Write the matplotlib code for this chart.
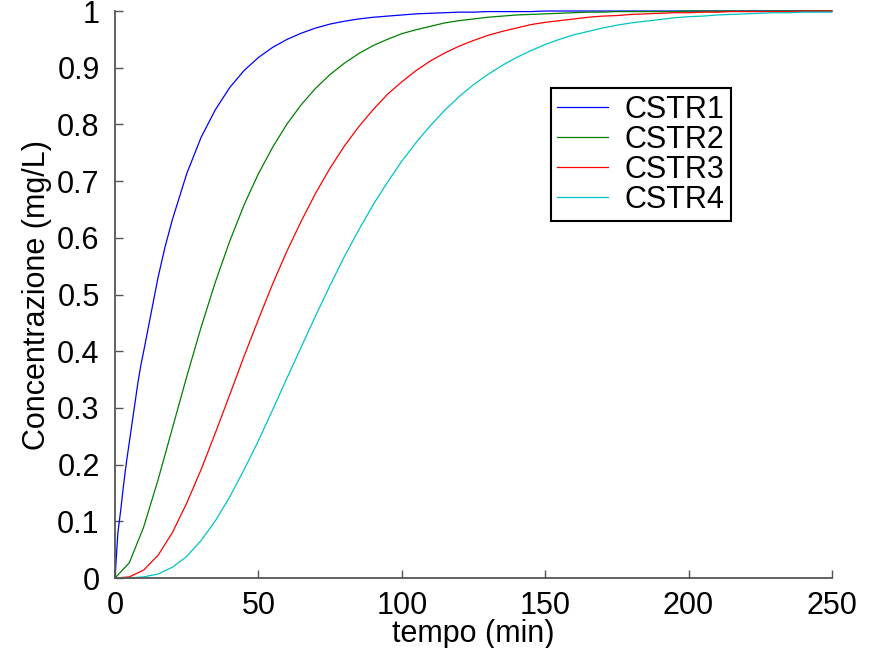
import matplotlib
matplotlib.use("Agg")
import matplotlib.pyplot as plt

# =========================
# Dati
# =========================
# CSTR1 ha qualche punto in piu' all'inizio (salita ripida)
tempo1 = [0, 0.5, 1, 2, 3, 4, 5, 6, 7, 8, 9, 10, 12.5, 15, 17.5] + list(range(20, 251, 5))
cstr1 = [0.0, 0.04, 0.08, 0.12, 0.165, 0.205, 0.24, 0.275, 0.31, 0.345, 0.375, 0.40, 0.465, 0.53, 0.585,
         0.632, 0.713, 0.777, 0.826, 0.865, 0.895, 0.918, 0.936, 0.950, 0.961,
         0.970, 0.977, 0.982, 0.986, 0.989, 0.991, 0.993, 0.995, 0.996, 0.997,
         0.998, 0.998, 0.999, 0.999, 0.999, 0.999, 1.0, 1.0, 1.0, 1.0,
         1.0, 1.0, 1.0, 1.0, 1.0, 1.0, 1.0, 1.0, 1.0, 1.0,
         1.0, 1.0, 1.0, 1.0, 1.0, 1.0, 1.0]

tempo = list(range(0, 251, 5))
cstr2 = [0.0, 0.027, 0.090, 0.173, 0.264, 0.355, 0.442, 0.522, 0.594, 0.658,
         0.713, 0.760, 0.801, 0.835, 0.864, 0.888, 0.908, 0.925, 0.939, 0.950,
         0.960, 0.967, 0.973, 0.979, 0.983, 0.986, 0.989, 0.991, 0.993, 0.994,
         0.995, 0.996, 0.997, 0.998, 0.998, 0.999, 0.999, 0.999, 0.999, 0.999,
         1.0, 1.0, 1.0, 1.0, 1.0, 1.0, 1.0, 1.0, 1.0, 1.0, 1.0]
cstr3 = [0.0, 0.002, 0.014, 0.040, 0.080, 0.132, 0.191, 0.256, 0.323, 0.391,
         0.456, 0.519, 0.577, 0.630, 0.679, 0.723, 0.762, 0.796, 0.826, 0.853,
         0.875, 0.895, 0.912, 0.926, 0.938, 0.948, 0.957, 0.964, 0.970, 0.976,
         0.980, 0.983, 0.986, 0.989, 0.991, 0.992, 0.994, 0.995, 0.996, 0.997,
         0.997, 0.998, 0.998, 0.999, 0.999, 0.999, 0.999, 0.999, 1.0, 1.0, 1.0]
cstr4 = [0.0, 0.0, 0.002, 0.007, 0.019, 0.038, 0.066, 0.101, 0.143, 0.191,
         0.242, 0.297, 0.353, 0.408, 0.463, 0.516, 0.567, 0.614, 0.658, 0.698,
         0.735, 0.768, 0.798, 0.825, 0.849, 0.870, 0.888, 0.904, 0.918, 0.930,
         0.941, 0.950, 0.958, 0.964, 0.970, 0.975, 0.979, 0.982, 0.985, 0.988,
         0.990, 0.991, 0.993, 0.994, 0.995, 0.996, 0.997, 0.997, 0.998, 0.998, 0.998]

x_ticks = [0, 50, 100, 150, 200, 250]
y_ticks = [0, 0.1, 0.2, 0.3, 0.4, 0.5, 0.6, 0.7, 0.8, 0.9, 1]
y_ticklabels = ["0", "0.1", "0.2", "0.3", "0.4", "0.5", "0.6", "0.7", "0.8", "0.9", "1"]

# =========================
# Grafico
# =========================
plt.rcParams["font.family"] = ["Liberation Sans", "DejaVu Sans"]
fs = 22

fig = plt.figure(figsize=(8.74, 6.48), dpi=100)
ax = fig.add_axes([0.1316, 0.108, 0.8202, 0.875])

lw = 0.9
ax.plot(tempo1, cstr1, color="#0000ff", lw=lw, label="CSTR1", clip_on=False)
ax.plot(tempo, cstr2, color="#008000", lw=lw, label="CSTR2", clip_on=False)
ax.plot(tempo, cstr3, color="#ff0000", lw=lw, label="CSTR3", clip_on=False)
ax.plot(tempo, cstr4, color="#00c4c4", lw=lw, label="CSTR4", clip_on=False)

ax.set_xlim(0, 250)
ax.set_ylim(0, 1)
ax.set_xticks(x_ticks)
ax.set_yticks(y_ticks)
ax.set_yticklabels(y_ticklabels)

for s in ["top", "right"]:
    ax.spines[s].set_visible(False)
for s in ["left", "bottom"]:
    ax.spines[s].set_color("#555555")
    ax.spines[s].set_linewidth(1.3)

ax.tick_params(axis="both", direction="in", length=6, width=1.0, color="#555555",
               labelsize=fs, labelcolor="black")
ax.tick_params(axis="x", pad=9)
ax.tick_params(axis="y", pad=11)

ax.set_xlabel("tempo (min)", fontsize=fs, labelpad=-1)
ax.set_ylabel("Concentrazione (mg/L)", fontsize=fs, labelpad=4)

leg = ax.legend(loc="upper left", bbox_to_anchor=(0.6075, 0.8645), fontsize=fs,
                frameon=True, fancybox=False, edgecolor="black", framealpha=1,
                borderpad=0.22, labelspacing=0.0, handlelength=1.65,
                handletextpad=0.55, borderaxespad=0)
leg.get_frame().set_linewidth(1.5)

fig.savefig("out.png", dpi=100)
plt.close(fig)
